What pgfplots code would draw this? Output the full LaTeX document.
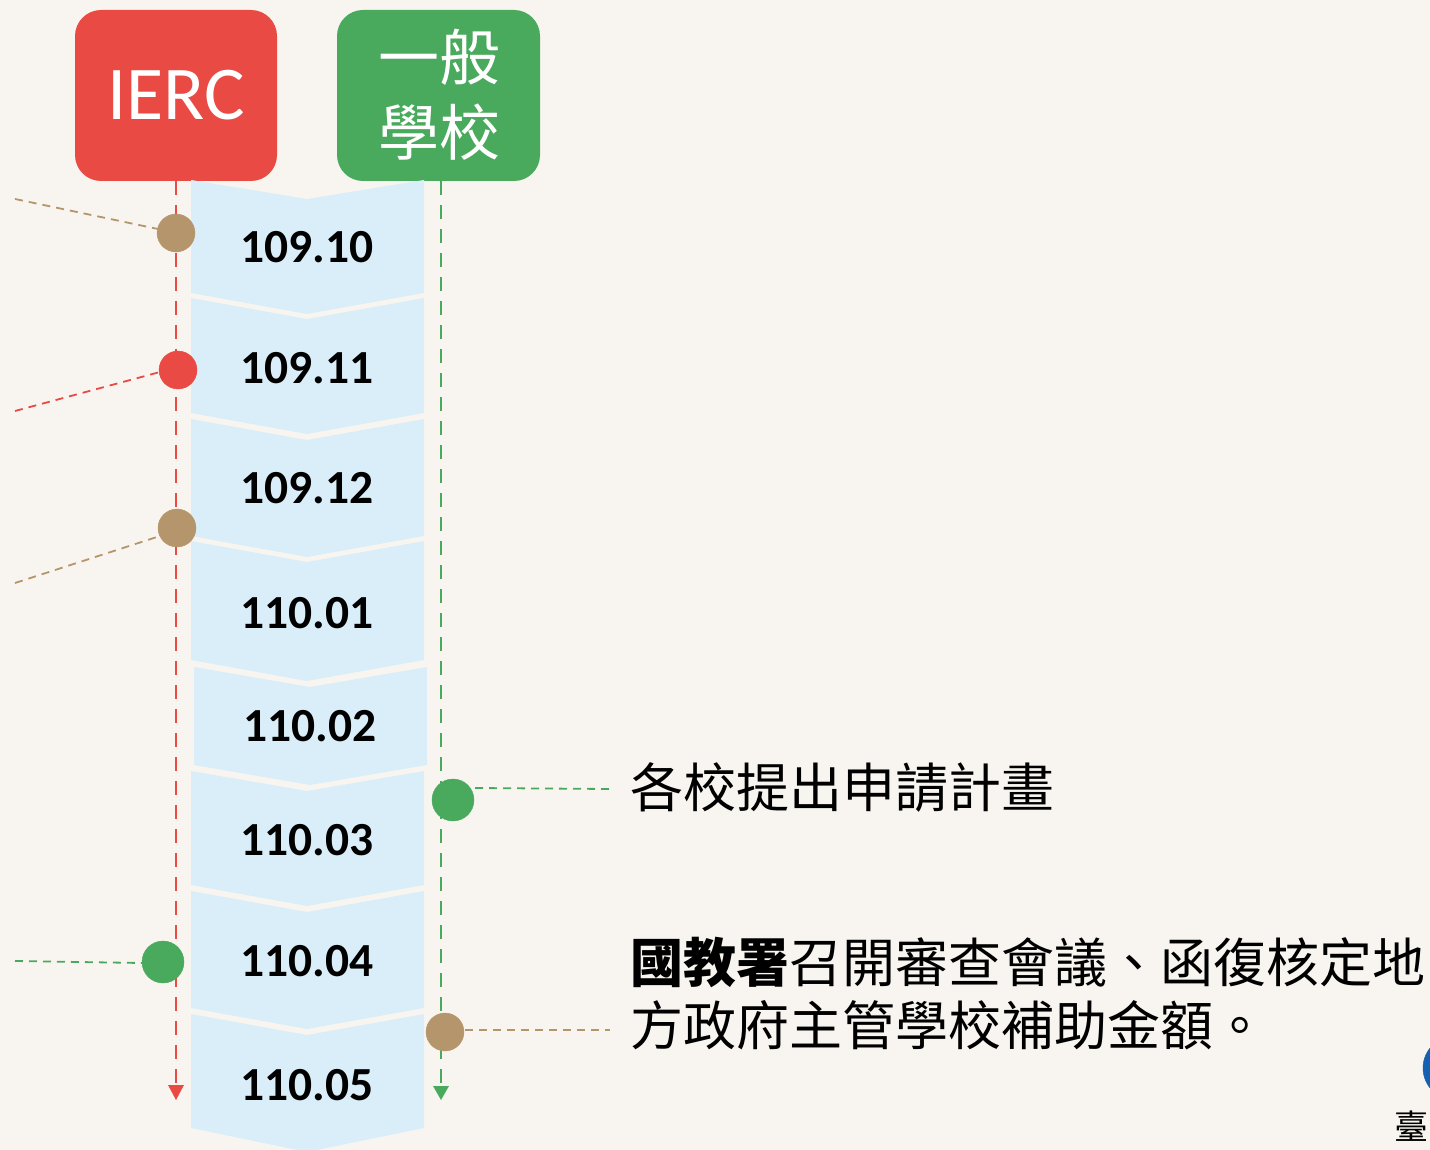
\documentclass[border=0pt]{standalone}
\usepackage{fontspec}
\setmainfont{Carlito}
\newfontfamily\cjk{Noto Sans CJK TC}
\usepackage{pgfplots}
\pgfplotsset{compat=1.18}
\definecolor{bg}{HTML}{F8F5F0}
\definecolor{ired}{HTML}{E94A43}
\definecolor{igreen}{HTML}{49A95C}
\definecolor{itan}{HTML}{B5956B}
\definecolor{chev}{HTML}{D9EEF8}
\definecolor{logo}{HTML}{1560B0}
\begin{document}
\begin{tikzpicture}
\begin{axis}[name=ax,
  width=1430pt, height=1150pt, scale only axis,
  xmin=0, xmax=1430, ymin=0, ymax=1150, y dir=reverse,
  hide axis, clip=false,
  axis background/.style={fill=bg},
]
% header boxes
\addplot[fill=ired, draw=none, rounded corners=26pt] coordinates {(176,10) (277,10) (277,181) (75,181) (75,10)} --cycle;
\addplot[fill=igreen, draw=none, rounded corners=26pt] coordinates {(438,10) (540,10) (540,181) (337,181) (337,10)} --cycle;
% chevrons
\addplot[fill=chev, draw=none] coordinates {(191,180)(307,199)(424,180)(424,293)(307,314)(191,293)} --cycle;
\addplot[fill=chev, draw=none] coordinates {(191,298)(307,319)(424,298)(424,413)(307,434)(191,413)} --cycle;
\addplot[fill=chev, draw=none] coordinates {(191,419)(307,440)(424,419)(424,536)(307,557)(191,536)} --cycle;
\addplot[fill=chev, draw=none] coordinates {(191,541)(307,562)(424,541)(424,660)(307,681)(191,660)} --cycle;
\addplot[fill=chev, draw=none] coordinates {(194,667)(310,687)(427,667)(427,765)(310,785)(194,765)} --cycle;
\addplot[fill=chev, draw=none] coordinates {(191,771)(307,791)(424,771)(424,885)(307,906)(191,885)} --cycle;
\addplot[fill=chev, draw=none] coordinates {(191,891)(307,912)(424,891)(424,1008)(307,1029)(191,1008)} --cycle;
\addplot[fill=chev, draw=none] coordinates {(191,1014)(307,1035)(424,1014)(424,1128)(307,1152)(191,1128)} --cycle;
% vertical dashed timelines
\addplot[ired, line width=2.5pt, dash pattern=on 14pt off 10pt] coordinates {(176,181) (176,1084)};
\addplot[igreen, line width=2.5pt, dash pattern=on 14pt off 10pt] coordinates {(441,181) (441,1086)};
\addplot[fill=ired, draw=none] coordinates {(168,1085) (184,1085) (176,1100)} --cycle;
\addplot[fill=igreen, draw=none] coordinates {(433,1086) (449,1086) (441,1100)} --cycle;
% connectors
\addplot[itan, line width=1.8pt, dash pattern=on 8pt off 6pt] coordinates {(15,199) (158,229)};
\addplot[ired, line width=1.8pt, dash pattern=on 8pt off 6pt] coordinates {(15,411) (160,372)};
\addplot[itan, line width=1.8pt, dash pattern=on 8pt off 6pt] coordinates {(15,583) (160,536)};
\addplot[igreen, line width=1.8pt, dash pattern=on 8pt off 6pt] coordinates {(15,961) (142,963)};
\addplot[igreen, line width=1.8pt, dash pattern=on 8pt off 6pt] coordinates {(475,788) (610,789)};
\addplot[itan, line width=1.8pt, dash pattern=on 8pt off 6pt] coordinates {(465,1030) (610,1030)};
% dots
\addplot[only marks, mark=*, mark size=19pt, color=itan] coordinates {(176,233) (177,528) (445,1032)};
\addplot[only marks, mark=*, mark size=19pt, color=ired] coordinates {(178,370)};
\addplot[only marks, mark=*, mark size=21pt, color=igreen] coordinates {(163,962) (453,800)};
% logo fragment
\addplot[only marks, mark=*, mark size=32pt, color=logo] coordinates {(1455,1068)};
% texts
\node[text=white, font=\fontsize{76}{80}\selectfont] at (axis cs:176,95) {IERC};
\node[text=white, font=\cjk\fontsize{61}{70}\selectfont, inner sep=0] at (axis cs:439,57) {一般};
\node[text=white, font=\cjk\fontsize{61}{70}\selectfont, inner sep=0] at (axis cs:439,132) {學校};
\node[font=\bfseries\fontsize{47.5}{50}\selectfont] at (axis cs:307,247) {109.10};
\node[font=\bfseries\fontsize{47.5}{50}\selectfont] at (axis cs:307,368) {109.11};
\node[font=\bfseries\fontsize{47.5}{50}\selectfont] at (axis cs:307,488) {109.12};
\node[font=\bfseries\fontsize{47.5}{50}\selectfont] at (axis cs:307,613) {110.01};
\node[font=\bfseries\fontsize{47.5}{50}\selectfont] at (axis cs:310,726) {110.02};
\node[font=\bfseries\fontsize{47.5}{50}\selectfont] at (axis cs:307,840) {110.03};
\node[font=\bfseries\fontsize{47.5}{50}\selectfont] at (axis cs:307,961) {110.04};
\node[font=\bfseries\fontsize{47.5}{50}\selectfont] at (axis cs:307,1085) {110.05};
\node[anchor=west, inner sep=0, font=\cjk\fontsize{53}{60}\selectfont] at (axis cs:630,787) {各校提出申請計畫};
\node[anchor=west, inner sep=0, font=\cjk\fontsize{53}{60}\selectfont] at (axis cs:630,962) {{\bfseries 國教署}召開審查會議、函復核定地};
\node[anchor=west, inner sep=0, font=\cjk\fontsize{53}{60}\selectfont] at (axis cs:630,1025) {方政府主管學校補助金額。};
\node[anchor=west, inner sep=0, font=\cjk\fontsize{34}{40}\selectfont] at (axis cs:1394,1126) {臺};
\end{axis}
\pgfresetboundingbox
\path[use as bounding box] (ax.south west) rectangle (ax.north east);
\end{tikzpicture}
\end{document}
